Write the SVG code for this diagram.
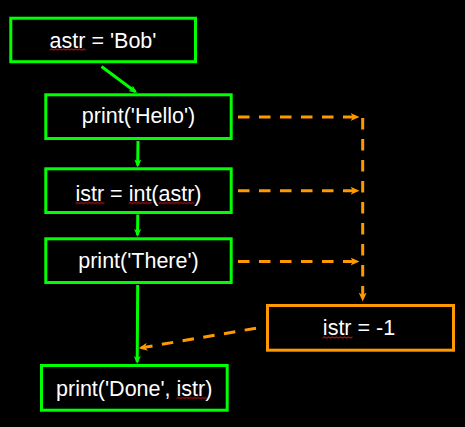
<svg xmlns="http://www.w3.org/2000/svg" width="465" height="427" viewBox="0 0 465 427">
  <style>
    .box { fill: none; stroke: #00FF00; stroke-width: 3; }
    .alt { fill: none; stroke: #FF9900; stroke-width: 3; }
    .label { font-family: "Liberation Sans", Arial, sans-serif; font-size: 21.5px; fill: #FFFFFF; text-anchor: middle; }
    .flow { fill: none; stroke: #00FF00; stroke-width: 3; marker-end: url(#arrowGreen); }
    .except { fill: none; stroke: #FF9900; stroke-width: 3; stroke-dasharray: 11.5 9.5; marker-end: url(#arrowOrange); }
    .squiggle { fill: url(#wavy); }
  </style>
  <defs>
    <marker id="arrowGreen" markerWidth="8" markerHeight="7" refX="6" refY="3.5" orient="auto" markerUnits="userSpaceOnUse">
      <path d="M0,0 L8,3.5 L0,7 L2,3.5 z" fill="#00FF00"/>
    </marker>
    <marker id="arrowOrange" markerWidth="9" markerHeight="8" refX="6.5" refY="4" orient="auto" markerUnits="userSpaceOnUse">
      <path d="M0,0 L9,4 L0,8 L2.5,4 z" fill="#FF9900"/>
    </marker>
    <!-- wavy spell-check underline tile -->
    <pattern id="wavy" width="4" height="3" patternUnits="userSpaceOnUse">
      <path d="M0,2.3 L2,0.7 L4,2.3" fill="none" stroke="#E02020" stroke-width="1"/>
    </pattern>
  </defs>

  <rect width="465" height="427" fill="#000000"/>

  <g id="connectors">
    <path class="flow" d="M101.5,66.5 L135.4,91.8"/>
    <path class="flow" d="M138,141 L137.7,165.5"/>
    <path class="flow" d="M137.8,214.5 L137.5,235"/>
    <path class="flow" d="M137.7,285 L137.2,362"/>
    <path class="except" d="M238,117 L357,117"/>
    <path class="except" d="M238,190.7 L357,190.7"/>
    <path class="except" d="M238,261.5 L357,261.5"/>
    <path class="except" d="M362.7,118 L362.7,299"/>
    <path class="except" d="M256,328.2 L141,347.9"/>
  </g>

  <g id="node-assign">
    <rect class="box" x="10.8" y="18.2" width="184.7" height="43.5"/>
    <text class="label" x="103" y="47.7">astr = 'Bob'</text>
    <g transform="translate(49.6,48)"><rect class="squiggle" width="36" height="3"/></g>
  </g>

  <g id="node-hello">
    <rect class="box" x="45.8" y="94.8" width="185.4" height="43.7"/>
    <text class="label" x="138.5" y="123.3">print('Hello')</text>
  </g>

  <g id="node-convert">
    <rect class="box" x="45.8" y="168.8" width="185.4" height="43.7"/>
    <text class="label" x="138.5" y="200.5">istr = int(astr)</text>
    <g transform="translate(75.5,201.5)"><rect class="squiggle" width="29" height="3"/></g>
    <g transform="translate(128.7,201.5)"><rect class="squiggle" width="23" height="3"/></g>
    <g transform="translate(158.6,201.5)"><rect class="squiggle" width="36" height="3"/></g>
  </g>

  <g id="node-there">
    <rect class="box" x="45.8" y="238.8" width="185.4" height="43.7"/>
    <text class="label" x="138.5" y="268.3">print('There')</text>
  </g>

  <g id="node-fallback">
    <rect class="alt" x="267.5" y="305.5" width="186" height="44.7"/>
    <text class="label" x="359" y="335">istr = -1</text>
    <g transform="translate(322.5,336)"><rect class="squiggle" width="30" height="3"/></g>
  </g>

  <g id="node-done">
    <rect class="box" x="41.5" y="365.5" width="185.7" height="44.7"/>
    <text class="label" x="134.2" y="396">print('Done', istr)</text>
    <g transform="translate(176.5,396.5)"><rect class="squiggle" width="30" height="3"/></g>
  </g>
</svg>
